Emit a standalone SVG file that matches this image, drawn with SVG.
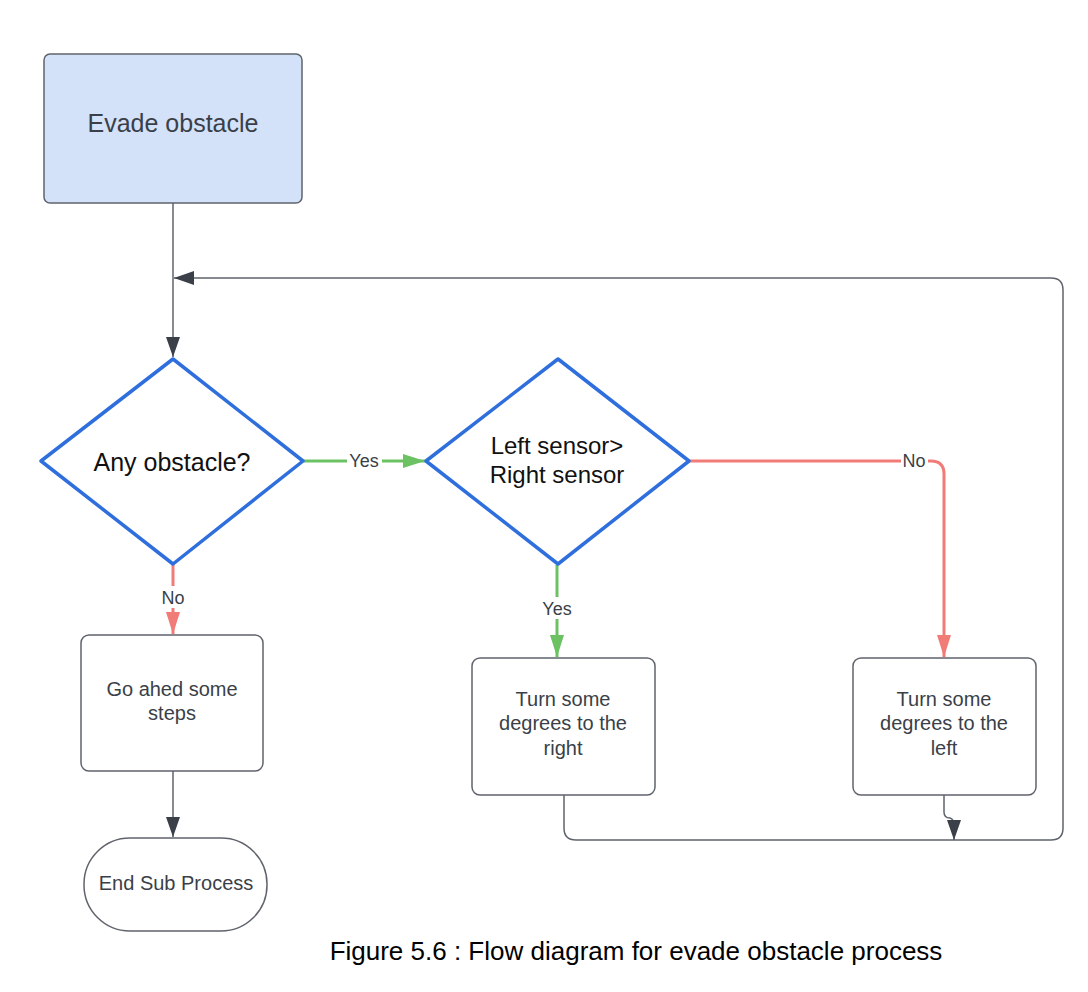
<svg xmlns="http://www.w3.org/2000/svg" width="1088" height="992" viewBox="0 0 1088 992">
<style>
.box{fill:#ffffff;stroke:#5f646c;stroke-width:1.5}
.dia{fill:#ffffff;stroke:#2f6fdd;stroke-width:3.5;stroke-linejoin:round}
.t{font-family:"Liberation Sans",Arial,sans-serif;font-size:20px;fill:#3a3f48;text-anchor:middle}
.tb{font-family:"Liberation Sans",Arial,sans-serif;font-size:24px;fill:#111111;text-anchor:middle}
.lbl{font-family:"Liberation Sans",Arial,sans-serif;font-size:18px;fill:#3a3f48;text-anchor:middle}
.dark{fill:none;stroke:#5f646c;stroke-width:1.5}
.green{fill:none;stroke:#6cc163;stroke-width:3}
.red{fill:none;stroke:#f17b76;stroke-width:3}
</style>
<defs>
<marker id="ad" markerUnits="userSpaceOnUse" markerWidth="20" markerHeight="14" refX="20" refY="7" orient="auto"><path d="M0,0 L20,7 L0,14 Z" fill="#3a3f48"/></marker>
<marker id="ag" markerUnits="userSpaceOnUse" markerWidth="22" markerHeight="14" refX="22" refY="7" orient="auto"><path d="M0,0 L22,7 L0,14 Z" fill="#6cc163"/></marker>
<marker id="ar" markerUnits="userSpaceOnUse" markerWidth="22" markerHeight="14" refX="22" refY="7" orient="auto"><path d="M0,0 L22,7 L0,14 Z" fill="#f17b76"/></marker>
</defs>
<rect width="1088" height="992" fill="#ffffff"/>
<g id="connectors">
<path class="dark" d="M173,203 L173,357" marker-end="url(#ad)"/>
<path class="dark" d="M564,795 L564,828 Q564,840 576,840 L1051,840 Q1063,840 1063,828 L1063,290 Q1063,278 1051,278 L174,278" marker-end="url(#ad)"/>
<path class="dark" d="M944,795 L944,812 Q944,818 950,818 Q954,819 954,826 L954,840" marker-end="url(#ad)"/>
<path class="dark" d="M173,771 L173,837" marker-end="url(#ad)"/>
<path class="red" d="M173,564 L173,634" marker-end="url(#ar)"/>
<rect x="157" y="586" width="32" height="22" fill="#ffffff"/>
<text class="lbl" x="173" y="604">No</text>
<path class="green" d="M304,461 L425,461" marker-end="url(#ag)"/>
<rect x="347" y="450" width="35" height="22" fill="#ffffff"/>
<text class="lbl" x="364" y="467">Yes</text>
<path class="green" d="M557,565 L557,657" marker-end="url(#ag)"/>
<rect x="539" y="597" width="36" height="22" fill="#ffffff"/>
<text class="lbl" x="557" y="615">Yes</text>
<path class="red" d="M690,461 L931,461 Q944,461 944,474 L944,657" marker-end="url(#ar)"/>
<rect x="901" y="450" width="27" height="22" fill="#ffffff"/>
<text class="lbl" x="914" y="467">No</text>
</g>
<g id="evade">
<rect x="44" y="54" width="258" height="149" rx="6" fill="#d3e2f9" stroke="#5f646c" stroke-width="1.5"/>
<text class="t" x="173" y="132" style="font-size:25px">Evade obstacle</text>
</g>
<g id="any-obstacle">
<path class="dia" d="M173,359 L303,461 L173,564 L41,461 Z"/>
<text class="tb" x="172" y="471" style="font-size:25px">Any obstacle?</text>
</g>
<g id="left-right">
<path class="dia" d="M558,359 L689,461 L558,564 L426,461 Z"/>
<text class="tb" x="557" y="454" style="font-size:24px">Left sensor&gt;</text>
<text class="tb" x="557" y="483" style="font-size:24px">Right sensor</text>
</g>
<g id="go-ahead">
<rect class="box" x="81" y="635" width="182" height="136" rx="8"/>
<text class="t" x="172" y="696">Go ahed some</text>
<text class="t" x="172" y="720">steps</text>
</g>
<g id="end">
<rect class="box" x="84" y="838" width="183" height="93" rx="46"/>
<text class="t" x="176" y="890">End Sub Process</text>
</g>
<g id="turn-right">
<rect class="box" x="472" y="658" width="183" height="137" rx="8"/>
<text class="t" x="563" y="706">Turn some</text>
<text class="t" x="563" y="730">degrees to the</text>
<text class="t" x="563" y="755">right</text>
</g>
<g id="turn-left">
<rect class="box" x="853" y="658" width="183" height="137" rx="8"/>
<text class="t" x="944" y="706">Turn some</text>
<text class="t" x="944" y="730">degrees to the</text>
<text class="t" x="944" y="755">left</text>
</g>
<text x="636" y="960" style="font-family:'Liberation Sans',Arial,sans-serif;font-size:26px;fill:#000000;text-anchor:middle">Figure 5.6 : Flow diagram for evade obstacle process</text>
</svg>
